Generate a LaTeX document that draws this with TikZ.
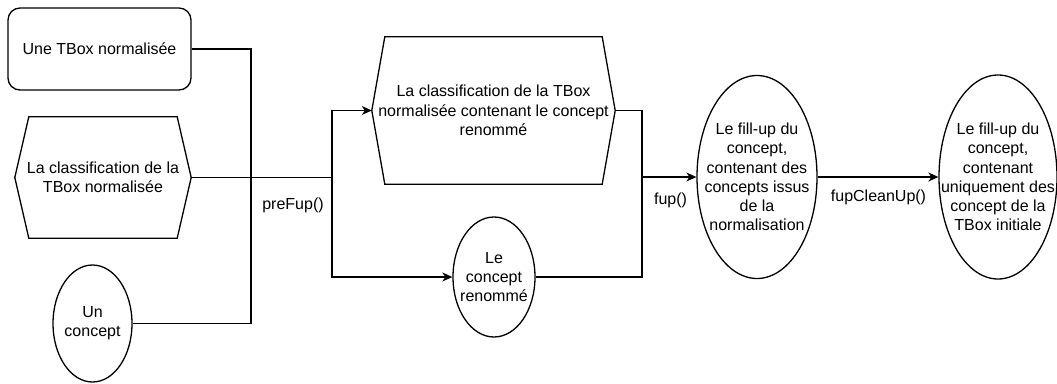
\documentclass[tikz,border=0pt]{standalone}
\usepackage{fontspec}
\setmainfont{Liberation Sans}
\usetikzlibrary{shapes.geometric,arrows.meta,calc}

\tikzset{
  every node/.style={font=\fontsize{16}{19.3}\selectfont, inner sep=0pt},
  line/.style={line width=1.3pt, black},
  arr/.style={line, -{Stealth[length=10pt,width=9pt,inset=3pt]}},
  roundbox/.style={line, draw, rounded corners=12pt, align=center},
  hexbox/.style={align=center},
  oval/.style={line, draw, ellipse},
  txt/.style={align=center},
  lbl/.style={align=center}
}

\newcommand{\hexframe}[2]{%
  \draw[line] ($(#1.north west)+(#2,0)$) -- ($(#1.north east)+(-#2,0)$) -- (#1.east)
    -- ($(#1.south east)+(-#2,0)$) -- ($(#1.south west)+(#2,0)$) -- (#1.west) -- cycle;}

\begin{document}
\begin{tikzpicture}[x=1pt,y=-1pt]
\useasboundingbox (0,0) rectangle (1057,383);

% inputs on the left
\node[roundbox, minimum width=183pt, minimum height=82pt] (tbox) at (99.5,49) {Une TBox normalisée};
\node[hexbox, minimum width=176pt, minimum height=121pt] (cls) at (103,177.5)
  {La classification de la\\TBox normalisée};
\hexframe{cls}{14}
\node[oval, minimum width=79pt, minimum height=117pt] (concept) at (92.5,323.5) {};
\node[txt] (concept-t) at (concept) {Un\\concept};

% results of preFup()
\node[hexbox, minimum width=243pt, minimum height=147pt] (clsr) at (493.5,110.5)
  {La classification de la TBox\\normalisée contenant le concept\\renommé};
\hexframe{clsr}{13}
\node[oval, minimum width=82pt, minimum height=120pt] (ren) at (494,277) {};
\node[txt] (ren-t) at (ren) {Le\\concept\\renommé};

% fill-up results
\node[oval, minimum width=120pt, minimum height=203pt] (fup) at (757,177) {};
\node[txt] (fup-t) at (fup) {Le fill-up du\\concept,\\contenant des\\concepts issus\\de la\\normalisation};
\node[oval, minimum width=118pt, minimum height=204pt] (clean) at (998,177) {};
\node[txt] (clean-t) at (clean) {Le fill-up du\\concept,\\contenant\\uniquement des\\concept de la\\TBox initiale};

% junction points
\coordinate (j1) at (251,177.5);
\coordinate (j2) at (332,177.5);
\coordinate (j3) at (642,177);

% connectors
\draw[line] (tbox.east) -| (j1);
\draw[line] (concept.east) -| (j1);
\draw[line] (cls.east) -- (j2);
\draw[arr] (j2) |- (clsr.west);
\draw[arr] (j2) |- (ren.west);
\draw[line] (clsr.east) -| (j3);
\draw[line] (ren.east) -| (j3);
\draw[arr] (j3) -- (fup.west);
\draw[arr] (fup.east) -- (clean.west);

% operation labels
\node[lbl] (l-prefup) at (293,205) {preFup()};
\node[lbl] (l-fup) at (670.5,200) {fup()};
\node[lbl] (l-clean) at (878.5,197) {fupCleanUp()};
\end{tikzpicture}
\end{document}
